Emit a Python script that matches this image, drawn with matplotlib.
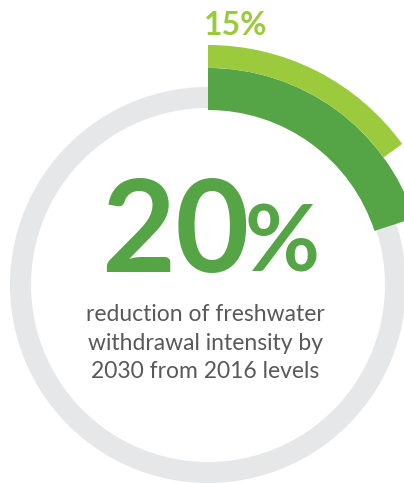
import matplotlib.pyplot as plt
from matplotlib.patches import Wedge

# values shown on the ring (percent)
target_values = [20, 15]
target_colors = ["#55a546", "#9bca3c"]
headline = "20"
headline_unit = "%"
outer_label = "15%"
caption_lines = [
    "reduction of freshwater",
    "withdrawal intensity by",
    "2030 from 2016 levels",
]

W, H = 404, 485
CX, CY = 208, H - 286
DEG_PER_PCT = 360 / 100

fig = plt.figure(figsize=(W / 100, H / 100), dpi=100)
ax = fig.add_axes([0, 0, 1, 1])
ax.set_xlim(0, W)
ax.set_ylim(0, H)
ax.set_aspect("equal")
ax.axis("off")

# background track
ax.add_patch(Wedge((CX, CY), 198, 0, 360, width=21, color="#e6e7e8", lw=0))

# progress arcs, drawn clockwise from 12 o'clock
rings = [(217, 42), (240, 23)]
for val, col, (r, w) in zip(target_values, target_colors, rings):
    ax.add_patch(Wedge((CX, CY), r, 90 - val * DEG_PER_PCT, 90, width=w, color=col, lw=0))

bold = dict(family=["Lato", "DejaVu Sans"], weight="bold")
ax.text(175, H - 272, headline, fontsize=92, color=target_colors[0],
        ha="center", va="baseline", **bold)
ax.text(282, H - 272, headline_unit, fontsize=66, color=target_colors[0],
        ha="center", va="baseline", **bold)
ax.text(236, H - 35, outer_label, fontsize=23, color=target_colors[1],
        ha="center", va="baseline", **bold)

for i, line in enumerate(caption_lines):
    ax.text(205, H - 321 - i * 28.5, line, fontsize=16.5, color="#58595b",
            ha="center", va="baseline", family=["Lato", "DejaVu Sans"], weight="normal")

fig.savefig("out.png", dpi=100)
